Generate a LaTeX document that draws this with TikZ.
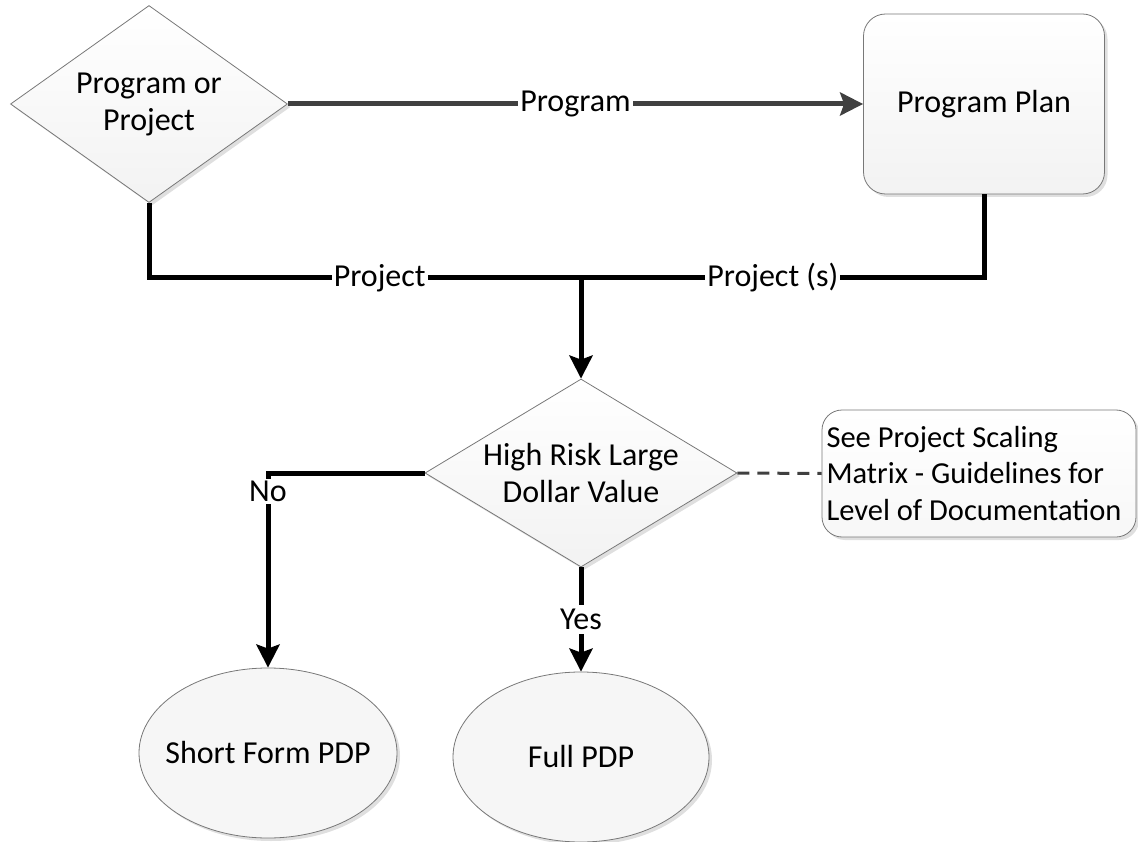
\documentclass[tikz,border=0pt]{standalone}
\usepackage{fontspec}
\setmainfont{Carlito}
\usetikzlibrary{shapes.geometric, arrows.meta, shadows}
\definecolor{linegray}{RGB}{64,64,64}
\definecolor{edgegray}{RGB}{120,120,120}
\begin{document}
\begin{tikzpicture}[x=1pt,y=-1pt,
  every node/.style={font=\fontsize{32}{37}\selectfont, text=black},
  softshadow/.style={drop shadow={shadow xshift=3pt, shadow yshift=-3pt, opacity=0.25, fill=gray}},
  shapebox/.style={draw=edgegray, line width=0.8pt, top color=white, bottom color=gray!10, softshadow},
  ovalbox/.style={ellipse, draw=edgegray, line width=0.8pt, fill=gray!7, softshadow, inner sep=0pt},
  lbl/.style={fill=white, inner sep=2pt},
  blk/.style={line width=5pt, black},
  tip/.style={-{Stealth[length=23pt, width=23pt, inset=4pt]}}
]
\useasboundingbox (0,0) rectangle (1138,842);

% nodes
\node[diamond, shapebox, minimum width=277pt, minimum height=197pt, inner sep=0pt] (d1) at (149,104) {};
\node[align=center] (d1t) at (d1.center) {Program or\\Project};

\node[rectangle, rounded corners=22pt, shapebox, minimum width=241pt, minimum height=180pt] (pp) at (984,104) {Program Plan};

\node[diamond, shapebox, minimum width=312pt, minimum height=188pt, inner sep=0pt] (d2) at (581,473) {};
\node[align=center] (d2t) at (d2.center) {High Risk Large\\Dollar Value};

\node[rectangle, rounded corners=20pt, draw=edgegray, line width=0.8pt, top color=white, bottom color=gray!6, softshadow,
      minimum width=314pt, minimum height=127pt, text width=305pt, inner sep=4.5pt, align=flush left,
      font=\fontsize{30.5}{36.5}\selectfont] (nt) at (979,473.5)
      {See Project Scaling\\Matrix - Guidelines for\\Level of Documentation};

\node[ovalbox, minimum width=258pt, minimum height=170pt] (e1) at (268,753) {};
\node (e1t) at (e1.center) {Short Form PDP};
\node[ovalbox, minimum width=256pt, minimum height=170pt] (e2) at (581,757) {};
\node (e2t) at (e2.center) {Full PDP};

\coordinate (j) at (581,278);

% connectors
\draw[line width=5pt, linegray, tip] (d1.east) -- node[lbl]{Program} (pp.west);
\draw[blk] (d1.south) |- node[lbl, pos=0.767]{Project} (j);
\draw[blk] (pp.south) |- node[lbl, pos=0.762]{Project (s)} (j);
\draw[blk, tip] (j) -- (d2.north);
\draw[blk, tip] (d2.west) -| node[lbl, pos=0.548]{No} (e1.north);
\draw[blk, tip] (d2.south) -- node[lbl, inner sep=4pt]{Yes} (e2.north);
\draw[line width=3pt, linegray, dash pattern=on 12pt off 8pt] (d2.east) -- (nt.west);
\end{tikzpicture}
\end{document}
